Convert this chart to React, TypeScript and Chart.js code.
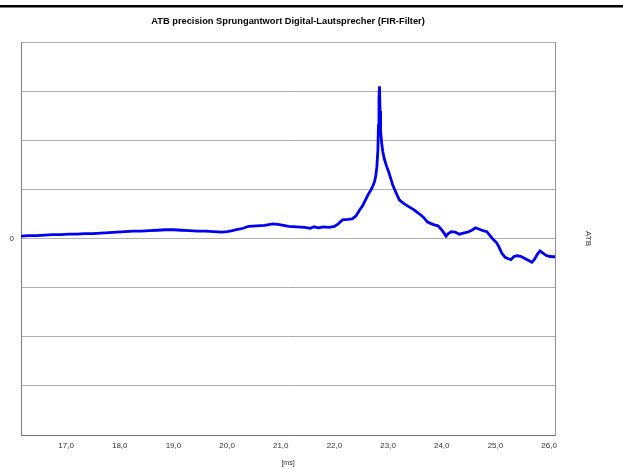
import React, { useEffect, useRef } from "react";
import { Chart, registerables } from "chart.js";

Chart.register(...registerables);

const TITLE = "ATB precision Sprungantwort Digital-Lautsprecher (FIR-Filter)";
const X_TITLE = "[ms]";
const Y_TITLE = "ATB";
const X_MIN = 16.16;
const X_MAX = 26.11;
const Y_MIN = -4;
const Y_MAX = 4;

const timeMs = [
  16.16, 16.3, 16.45, 16.6, 16.75, 16.9, 17.05, 17.2, 17.35, 17.5, 17.65, 17.8, 17.95, 18.1,
  18.25, 18.4, 18.55, 18.7, 18.85, 19.0, 19.15, 19.3, 19.45, 19.6, 19.75, 19.9, 20.0, 20.1,
  20.2, 20.3, 20.4, 20.55, 20.7, 20.85, 20.95, 21.05, 21.15, 21.3, 21.45, 21.55, 21.62, 21.7,
  21.8, 21.9, 22.0, 22.07, 22.15, 22.25, 22.33, 22.4, 22.47, 22.53, 22.58, 22.63, 22.68, 22.72,
  22.75, 22.77, 22.79, 22.81, 22.82, 22.83, 22.84, 22.85, 22.86, 22.88, 22.9, 22.93, 22.97,
  23.01, 23.05, 23.09, 23.13, 23.17, 23.21, 23.26, 23.31, 23.37, 23.43, 23.49, 23.55, 23.61,
  23.67, 23.73, 23.79, 23.86, 23.93, 23.98, 24.03, 24.08, 24.12, 24.18, 24.25, 24.33, 24.4,
  24.48, 24.56, 24.63, 24.7, 24.77, 24.84, 24.9, 24.96, 25.02, 25.07, 25.12, 25.18, 25.24,
  25.29, 25.34, 25.4, 25.47, 25.54, 25.61, 25.68, 25.73, 25.78, 25.83, 25.88, 25.94, 26.0,
  26.06, 26.11,
];

const response = [
  0.05, 0.06, 0.06, 0.07, 0.08, 0.08, 0.09, 0.09, 0.1, 0.1, 0.11, 0.12, 0.13, 0.14,
  0.15, 0.15, 0.16, 0.17, 0.18, 0.18, 0.17, 0.16, 0.15, 0.15, 0.14, 0.13, 0.14, 0.16,
  0.19, 0.21, 0.25, 0.26, 0.27, 0.3, 0.29, 0.27, 0.25, 0.24, 0.23, 0.21, 0.24, 0.22,
  0.24, 0.23, 0.25, 0.3, 0.38, 0.39, 0.4, 0.46, 0.58, 0.68, 0.79, 0.9, 0.99, 1.08,
  1.17, 1.28, 1.45, 1.8, 2.3, 2.85, 3.1, 2.6, 2.2, 1.95, 1.78, 1.62, 1.48,
  1.36, 1.22, 1.08, 0.98, 0.88, 0.79, 0.74, 0.7, 0.66, 0.62, 0.58, 0.53, 0.48,
  0.42, 0.34, 0.31, 0.28, 0.26, 0.2, 0.13, 0.05, 0.1, 0.14, 0.13, 0.09, 0.11,
  0.13, 0.17, 0.22, 0.19, 0.16, 0.14, 0.06, -0.02, -0.08, -0.18, -0.3, -0.38, -0.41,
  -0.43, -0.37, -0.35, -0.36, -0.4, -0.44, -0.48, -0.42, -0.32, -0.25, -0.29, -0.34, -0.36,
  -0.37, -0.37,
];

const FONT = "'Liberation Sans', Arial, sans-serif";

const topRule = {
  id: "topRule",
  beforeDraw(chart: any) {
    const { ctx, width } = chart;
    ctx.save();
    ctx.fillStyle = "#ffffff";
    ctx.fillRect(0, 0, width, chart.height);
    ctx.fillStyle = "#000000";
    ctx.fillRect(0, 5, width, 2.5);
    ctx.restore();
  },
};

export default function App() {
  const ref = useRef<HTMLCanvasElement | null>(null);

  useEffect(() => {
    if (!ref.current) return;
    const points = timeMs.map((x, i) => ({ x, y: response[i] }));
    const chart = new Chart(ref.current, {
      type: "line",
      data: {
        datasets: [
          {
            data: points,
            borderColor: "#0000ee",
            borderWidth: 2.8,
            pointRadius: 0,
            tension: 0,
            fill: false,
          },
        ],
      },
      plugins: [topRule],
      options: {
        animation: false,
        responsive: false,
        layout: { padding: 0 },
        plugins: {
          legend: { display: false },
          tooltip: { enabled: false },
          title: {
            display: true,
            text: TITLE,
            fullSize: false,
            color: "#000",
            font: { family: FONT, size: 9.3, weight: "bold" },
            padding: { top: 15.5, bottom: 15.5 },
          },
        },
        scales: {
          x: {
            type: "linear",
            min: X_MIN,
            max: X_MAX,
            afterFit: (s: any) => {
              s.height = 34;
            },
            grid: { display: false, drawTicks: false },
            border: { display: true, color: "#707070", width: 1 },
            ticks: {
              stepSize: 1,
              includeBounds: false,
              padding: 6,
              color: "#333",
              font: { family: FONT, size: 8 },
              maxRotation: 0,
              callback: (v: any) => Number(v).toFixed(1).replace(".", ","),
            },
            title: {
              display: true,
              text: X_TITLE,
              color: "#333",
              font: { family: FONT, size: 7 },
              padding: { top: 0, bottom: 2 },
            },
          },
          y: {
            min: Y_MIN,
            max: Y_MAX,
            afterFit: (s: any) => {
              s.width = 21;
            },
            grid: { color: "#b0b0b0", drawTicks: false },
            border: { display: true, color: "#808080", width: 1 },
            ticks: {
              stepSize: 1,
              padding: 7,
              color: "#333",
              font: { family: FONT, size: 8 },
              callback: (v: any) => (Number(v) === 0 ? "0" : ""),
            },
          },
          y2: {
            position: "right",
            min: Y_MIN,
            max: Y_MAX,
            afterFit: (s: any) => {
              s.width = 68;
            },
            grid: { display: false, drawTicks: false },
            border: { display: true, color: "#909090", width: 1 },
            ticks: { display: false },
            title: {
              display: true,
              text: Y_TITLE,
              color: "#333",
              font: { family: FONT, size: 8 },
              padding: { top: 30, bottom: 0 },
            },
          },
        },
      },
    } as any);
    return () => chart.destroy();
  }, []);

  return (
    <div style={{ position: "fixed", left: 0, top: 0, width: 623, height: 469, background: "#fff" }}>
      <canvas ref={ref} width={623} height={469} style={{ display: "block" }} />
    </div>
  );
}
